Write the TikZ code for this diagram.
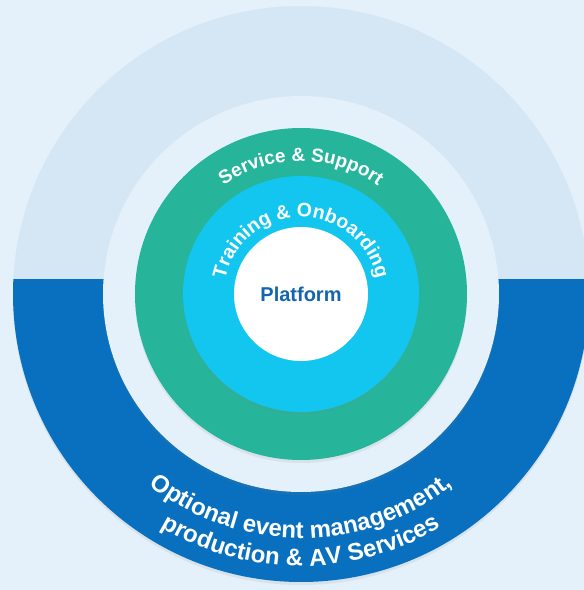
\documentclass[tikz,border=0pt]{standalone}
\usepackage{fontspec}
\setmainfont{Liberation Sans}
\usetikzlibrary{positioning,decorations.text,shadows}
\definecolor{bgblue}{HTML}{E4F0FA}
\definecolor{paleblue}{HTML}{D5E7F5}
\definecolor{deepblue}{HTML}{0870BF}
\definecolor{ringgreen}{HTML}{26B59B}
\definecolor{ringcyan}{HTML}{13C6F0}
\definecolor{textblue}{HTML}{1564B0}
\tikzset{
	disc/.style={circle, inner sep=0pt, minimum size=#1},
	softshadow/.style={drop shadow={opacity=0.12, shadow xshift=0pt, shadow yshift=-3pt}},
	ringtext/.style={decorate, decoration={text along path, text align=center, text={#1}}}
}

\begin{document}
\begin{tikzpicture}[x=1pt, y=1pt]
		\fill[bgblue] (0,0) rectangle (584,590);
		\useasboundingbox (0,0) rectangle (584,590);
		\clip (0,0) rectangle (584,590);
		\coordinate (hub) at (301,296);
		\node[disc=576pt, fill=paleblue, softshadow] (events) at (hub) {};
		\begin{scope}
			\clip (0,0) rectangle (584,310);
			\fill[deepblue] (hub) circle[radius=288];
		\end{scope}
		\node[disc=396pt, fill=bgblue, softshadow] (gap) at (hub) {};
		\node[disc=332pt, fill=ringgreen, softshadow] (service) at (hub) {};
		\node[disc=236pt, fill=ringcyan, softshadow] (training) at (hub) {};
		\node[disc=134pt, fill=white, text=textblue, font=\fontsize{20}{20}\selectfont\bfseries] (platform) at (hub) {Platform};
		\path[ringtext={|\fontsize{19}{19}\selectfont\bfseries\color{white}|Service {\&} Support}]
			(hub) ++(170:133) arc[start angle=170, end angle=10, radius=133];
		\path[ringtext={|\fontsize{19.5}{19.5}\selectfont\bfseries\color{white}|Training {\&} Onboarding}]
			(hub) ++(190:77) arc[start angle=190, end angle=-10, radius=77];
		\path[ringtext={|\fontsize{24}{24}\selectfont\bfseries\color{white}|Optional event management{,}}]
			(hub) ++(200:244) arc[start angle=200, end angle=340, radius=244];
		\path[ringtext={|\fontsize{24}{24}\selectfont\bfseries\color{white}|production {\&} AV Services}]
			(hub) ++(200:272) arc[start angle=200, end angle=340, radius=272];
	\end{tikzpicture}
\end{document}
